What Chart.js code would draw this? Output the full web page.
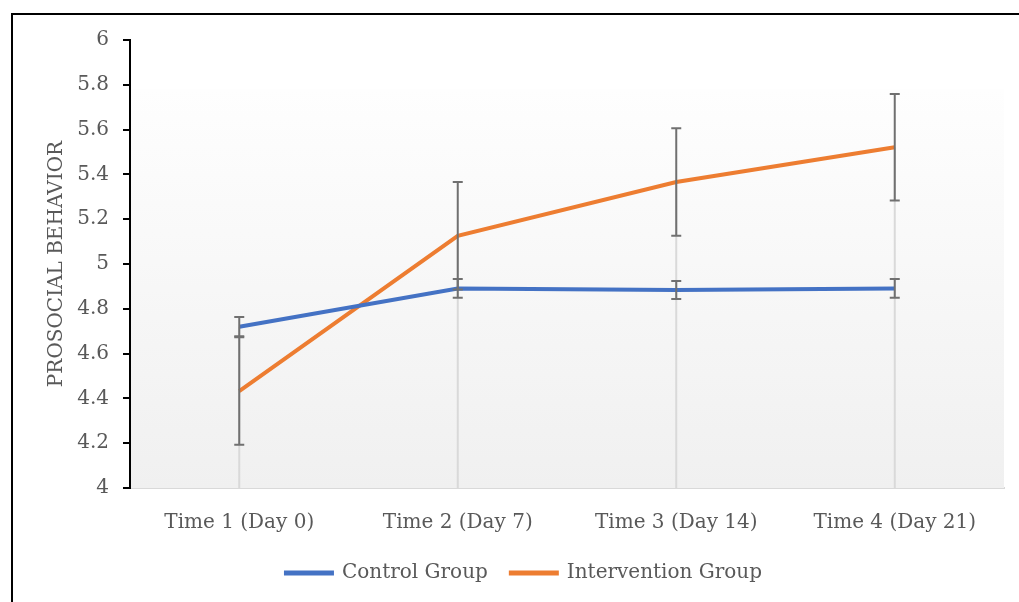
<!DOCTYPE html>
<html>
<head>
<meta charset="utf-8">
<script src="https://cdn.jsdelivr.net/npm/chart.js@4/dist/chart.umd.min.js"></script>
<style>
html,body{margin:0;padding:0;background:#fff;}
#wrap{width:1019px;height:602px;position:relative;}
</style>
</head>
<body>
<div id="wrap"><canvas id="c" width="1019" height="602"></canvas></div>
<script>
const categories = ['Time 1 (Day 0)', 'Time 2 (Day 7)', 'Time 3 (Day 14)', 'Time 4 (Day 21)'];
const controlValues = [4.72, 4.891, 4.884, 4.891];
const controlErrors = [0.043, 0.042, 0.04, 0.042];
const interventionValues = [4.433, 5.126, 5.366, 5.521];
const interventionErrors = [0.24, 0.24, 0.24, 0.238];
const yMin = 4, yMax = 6, yStep = 0.2;

const FONT = "'DejaVu Serif', serif";
const TXT = '#595959';

const framePlugin = {
  id: 'frame',
  beforeDraw(chart) {
    const ctx = chart.ctx;
    ctx.save();
    ctx.strokeStyle = '#000';
    ctx.lineWidth = 2;
    ctx.beginPath();
    ctx.moveTo(12, 602);
    ctx.lineTo(12, 14);
    ctx.lineTo(1019, 14);
    ctx.stroke();
    ctx.restore();
  },
  beforeDatasetsDraw(chart) {
    const ctx = chart.ctx, a = chart.chartArea, y = chart.scales.y, x = chart.scales.x;
    ctx.save();
    const top = y.getPixelForValue(5.78);
    const g = ctx.createLinearGradient(0, top, 0, a.bottom);
    g.addColorStop(0, '#fefefe');
    g.addColorStop(1, '#f0f0f0');
    ctx.fillStyle = g;
    ctx.fillRect(a.left + 1, top, a.right - a.left - 1, a.bottom - top);
    // drop lines
    ctx.strokeStyle = '#d9d9d9';
    ctx.lineWidth = 2;
    categories.forEach((c, i) => {
      const px = x.getPixelForValue(i);
      const top = y.getPixelForValue(Math.max(controlValues[i], interventionValues[i]));
      ctx.beginPath();
      ctx.moveTo(px, top);
      ctx.lineTo(px, a.bottom);
      ctx.stroke();
    });
    ctx.restore();
  },
  afterDatasetsDraw(chart) {
    const ctx = chart.ctx, y = chart.scales.y, x = chart.scales.x;
    ctx.save();
    ctx.strokeStyle = '#707070';
    ctx.lineWidth = 2;
    const draw = (vals, errs) => {
      vals.forEach((v, i) => {
        const px = x.getPixelForValue(i);
        const hi = y.getPixelForValue(v + errs[i]);
        const lo = y.getPixelForValue(v - errs[i]);
        ctx.beginPath();
        ctx.moveTo(px, hi); ctx.lineTo(px, lo);
        ctx.moveTo(px - 5, hi); ctx.lineTo(px + 5, hi);
        ctx.moveTo(px - 5, lo); ctx.lineTo(px + 5, lo);
        ctx.stroke();
      });
    };
    draw(controlValues, controlErrors);
    draw(interventionValues, interventionErrors);
    ctx.restore();
  }
};

new Chart(document.getElementById('c'), {
  type: 'line',
  data: {
    labels: categories,
    datasets: [
      {label: 'Control Group', data: controlValues, borderColor: '#4472C4', backgroundColor: '#4472C4', borderWidth: 4, pointRadius: 0, tension: 0},
      {label: 'Intervention Group', data: interventionValues, borderColor: '#ED7D31', backgroundColor: '#ED7D31', borderWidth: 4, pointRadius: 0, tension: 0}
    ]
  },
  options: {
    responsive: false,
    animation: false,
    layout: {padding: {left: 44, right: 15, top: 40, bottom: 9}},
    plugins: {
      tooltip: {enabled: false},
      legend: {
        position: 'bottom',
        labels: {
          boxWidth: 46, boxHeight: 1, padding: 23,
          color: TXT,
          font: {family: FONT, size: 20}
        }
      }
    },
    scales: {
      x: {
        offset: true,
        grid: {display: false, drawTicks: false},
        border: {display: true, color: '#d9d9d9', width: 2},
        ticks: {color: TXT, font: {family: FONT, size: 20}, padding: 23},
        afterFit(s) { s.height = 52; }
      },
      y: {
        min: yMin, max: yMax,
        ticks: {
          stepSize: yStep, color: TXT, font: {family: FONT, size: 20}, padding: 14,
          callback: v => String(+v.toFixed(1))
        },
        grid: {display: true, drawOnChartArea: false, drawTicks: true, tickLength: 7, color: '#000', lineWidth: 2},
        border: {display: true, color: '#000', width: 2},
        title: {display: true, text: 'PROSOCIAL BEHAVIOR', color: TXT, font: {family: FONT, size: 20}, padding: {top: 1, bottom: 0}},
        afterFit(s) { s.width = 86; }
      }
    }
  },
  plugins: [framePlugin]
});
</script>
</body>
</html>
